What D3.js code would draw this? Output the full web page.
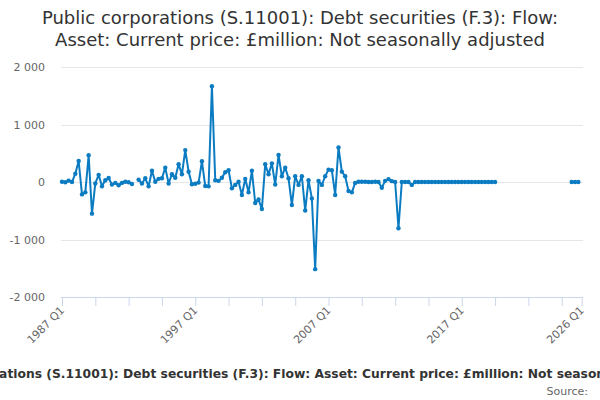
<!DOCTYPE html>
<html>
<head>
<meta charset="utf-8">
<script src="https://cdn.jsdelivr.net/npm/d3@7"></script>
<style>
  body { margin: 0; background: #fff; }
  svg { font-family: "DejaVu Sans", sans-serif; display: block; }
</style>
</head>
<body>
<div id="grafico"></div>
<script>
// Datos: serie trimestral 1987 Q1 - 2026 Q1 (null = sin dato)
const startYear = 1987;
const nQuarters = 157;
const quarters = [];
for (let i = 0; i < nQuarters; i++) {
    quarters.push((startYear + Math.floor(i / 4)) + " Q" + (i % 4 + 1));
}

const values = [
    10, 0, 30, 5, 150, 370, -210, -175, 470, -545,
    -20, 130, -70, 35, 75, -40, -10, -50, -10, 10,
    0, -30, null, 45, -20, 70, -70, 200, 10, 60,
    70, 255, -20, 140, 80, 315, 140, 560, 185, -35,
    -25, -5, 365, -65, -70, 1670, 35, 25, 80, 175,
    210, -105, -45, 10, -220, 60, -175, 200, -360, -300,
    -465, 315, 140, 330, -40, 475, 105, 255, 70, -395,
    105, -45, 105, -490, 35, -280, -1510, 25, -45, 105,
    220, 210, -220, 605, 185, 105, -150, -175, -10, 10,
    10, 10, 5, 5, 10, 5, -95, 25, 55, 20,
    5, -800, 5, 5, 5, -45, 5, 5, 5, 5,
    5, 5, 5, 5, 5, 5, 5, 5, 5, 5,
    5, 5, 5, 5, 5, 5, 5, 5, 5, 5,
    5, null, null, null, null, null, null, null, null, null,
    null, null, null, null, null, null, null, null, null, null,
    null, null, null, 5, 5, 5, null
];

const yTicks = [-2000, -1000, 0, 1000, 2000];
const xTickIdx = [0, 10, 20, 30, 40, 50, 60, 70, 80, 90, 100, 110, 120, 130, 140, 150, 156];
const xLabelIdx = [0, 40, 80, 120, 156];

const titleLines = [
    "Public corporations (S.11001): Debt securities (F.3): Flow:",
    "Asset: Current price: £million: Not seasonally adjusted"
];
const captionText = "Public corporations (S.11001): Debt securities (F.3): Flow: Asset: Current price: £million: Not seasonally adjusted";

const data = quarters.map((q, i) => ({ i: i, q: q, v: values[i] }));

const svg = d3.select("#grafico")
    .append("svg")
    .attr("width", 600)
    .attr("height", 400);

// Escalas
const xScale = d3.scaleLinear()
    .domain([0, nQuarters - 1])
    .range([62, 581.7]);

const yScale = d3.scaleLinear()
    .domain([-2000, 2000])
    .range([297.3, 67.3]);

// Título
svg.append("text")
    .attr("x", 300)
    .attr("y", 24)
    .attr("text-anchor", "middle")
    .attr("fill", "#333")
    .style("font-size", "18px")
    .selectAll("tspan")
    .data(titleLines)
    .enter()
    .append("tspan")
    .attr("x", 300)
    .attr("dy", (d, i) => i === 0 ? 0 : 22)
    .text(d => d);

// Rejilla horizontal
svg.append("g")
    .selectAll("line")
    .data(yTicks.filter(d => d !== -2000))
    .enter()
    .append("line")
    .attr("x1", 61)
    .attr("x2", 583)
    .attr("y1", d => Math.round(yScale(d)) + 0.5)
    .attr("y2", d => Math.round(yScale(d)) + 0.5)
    .attr("stroke", "#e6e6e6");

// Eje Y (solo etiquetas)
svg.append("g")
    .selectAll("text")
    .data(yTicks)
    .enter()
    .append("text")
    .attr("x", 45)
    .attr("y", d => yScale(d) + 4)
    .attr("text-anchor", "end")
    .attr("fill", "#666")
    .style("font-size", "11px")
    .text(d => d3.format(",")(d).replace(",", " ").replace("−", "-"));

// Eje X
const xAxis = d3.axisBottom(xScale)
    .tickValues(xTickIdx)
    .tickSize(9)
    .tickFormat("");

const gx = svg.append("g")
    .attr("transform", "translate(0," + Math.round(yScale(-2000)) + ")")
    .call(xAxis);
gx.select(".domain").attr("stroke", "#ccd6eb").attr("d", "M61,0.5H583");
gx.selectAll(".tick line").attr("stroke", "#ccd6eb");

svg.append("g")
    .selectAll("text")
    .data(xLabelIdx)
    .enter()
    .append("text")
    .attr("transform", d => "translate(" + (xScale(d) + 3) + "," + 311 + ") rotate(-45)")
    .attr("text-anchor", "end")
    .attr("fill", "#666")
    .style("font-size", "11px")
    .text(d => quarters[d]);

// Línea y puntos
const line = d3.line()
    .defined(d => d.v !== null)
    .x(d => xScale(d.i))
    .y(d => yScale(d.v));

svg.append("path")
    .datum(data)
    .attr("fill", "none")
    .attr("stroke", "#0b7cc2")
    .attr("stroke-width", 2)
    .attr("stroke-linejoin", "round")
    .attr("d", line);

svg.append("g")
    .selectAll("circle")
    .data(data.filter(d => d.v !== null))
    .enter()
    .append("circle")
    .attr("cx", d => xScale(d.i))
    .attr("cy", d => yScale(d.v))
    .attr("r", 2.2)
    .attr("fill", "#0b7cc2");

// Pie: descripción (cortada en los bordes, como en el original) y fuente
svg.append("text")
    .attr("x", 301)
    .attr("y", 378)
    .attr("text-anchor", "middle")
    .attr("fill", "#333")
    .style("font-size", "12.3px")
    .style("font-weight", "bold")
    .text(captionText);

svg.append("text")
    .attr("x", 588)
    .attr("y", 395)
    .attr("text-anchor", "end")
    .attr("fill", "#666")
    .style("font-size", "11px")
    .text("Source:");
</script>
</body>
</html>
